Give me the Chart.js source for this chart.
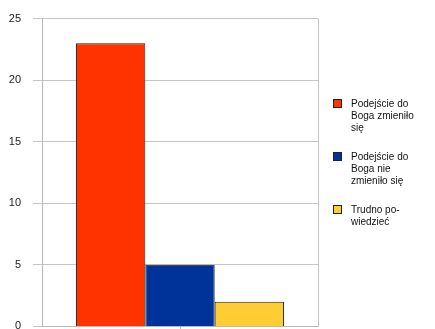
<!DOCTYPE html>
<html>
<head>
<meta charset="utf-8">
<script src="https://cdn.jsdelivr.net/npm/chart.js@4/dist/chart.umd.min.js"></script>
<style>
  html, body { margin: 0; padding: 0; background: #ffffff; overflow: hidden; }
  #wrap { width: 435px; height: 329px; overflow: hidden; }
</style>
</head>
<body>
<div id="wrap"><canvas id="godChart" width="435" height="345"></canvas></div>
<script>
// answers: how the attitude to God changed
const categories = [''];
const seriesNames = [
    ['Podejście do', 'Boga zmieniło', 'się'],
    ['Podejście do', 'Boga nie', 'zmieniło się'],
    ['Trudno po-', 'wiedzieć']
];
const seriesValues = [[23], [5], [2]];
const seriesColors = ['#ff3300', '#003399', '#ffcc33'];
const yTicks = [0, 5, 10, 15, 20, 25];

// legend on the right, with wrapped labels
const sideLegend = {
    id: 'sideLegend',
    afterDraw(chart) {
        const ctx = chart.ctx;
        const x = chart.chartArea.right + 15;
        let y = 99;
        ctx.save();
        ctx.font = '10px "Liberation Sans", Arial, sans-serif';
        ctx.textBaseline = 'middle';
        chart.data.datasets.forEach(function (ds) {
            ctx.fillStyle = ds.backgroundColor;
            ctx.fillRect(x, y, 9, 9);
            ctx.strokeStyle = '#222222';
            ctx.lineWidth = 1;
            ctx.strokeRect(x + 0.5, y + 0.5, 8, 8);
            ctx.fillStyle = '#111111';
            ds.lines.forEach(function (line, i) {
                ctx.fillText(line, x + 18, y + 5 + i * 12);
            });
            y += ds.lines.length * 12 + 17;
        });
        ctx.restore();
    }
};

const ctx = document.getElementById('godChart').getContext('2d');
new Chart(ctx, {
    type: 'bar',
    data: {
        labels: categories,
        datasets: seriesValues.map(function (vals, i) {
            return {
                label: seriesNames[i].join(' '),
                lines: seriesNames[i],
                data: vals,
                backgroundColor: seriesColors[i],
                borderColor: '#222222',
                borderWidth: 1,
                barPercentage: 1,
                categoryPercentage: 0.754
            };
        })
    },
    options: {
        responsive: false,
        animation: false,
        layout: { padding: { top: 16, right: 117, left: 0, bottom: 0 } },
        plugins: {
            legend: { display: false },
            tooltip: { enabled: false }
        },
        scales: {
            x: {
                ticks: { display: false },
                grid: { drawOnChartArea: false, offset: false, tickLength: 3, color: '#b8b8b8' },
                border: { color: '#b8b8b8', width: 1 },
                afterFit: function (axis) { axis.height = 3; }
            },
            y: {
                min: 0,
                max: 25,
                afterBuildTicks: function (axis) {
                    axis.ticks = yTicks.map(function (v) { return { value: v }; });
                },
                ticks: {
                    color: '#222222',
                    padding: 12,
                    font: { size: 11, family: '"Liberation Sans", Arial, sans-serif' }
                },
                grid: { color: '#c4c4c4', tickLength: 9, lineWidth: 1 },
                border: { color: '#b8b8b8', width: 1 },
                afterFit: function (axis) { axis.width = 42; }
            }
        }
    },
    plugins: [sideLegend, {
        id: 'frameRight',
        beforeDatasetsDraw(chart) {
            const a = chart.chartArea;
            chart.ctx.save();
            chart.ctx.strokeStyle = '#c4c4c4';
            chart.ctx.lineWidth = 1;
            chart.ctx.beginPath();
            chart.ctx.moveTo(Math.round(a.right) + 0.5, a.top);
            chart.ctx.lineTo(Math.round(a.right) + 0.5, a.bottom);
            chart.ctx.stroke();
            chart.ctx.restore();
        }
    }]
});
</script>
</body>
</html>
